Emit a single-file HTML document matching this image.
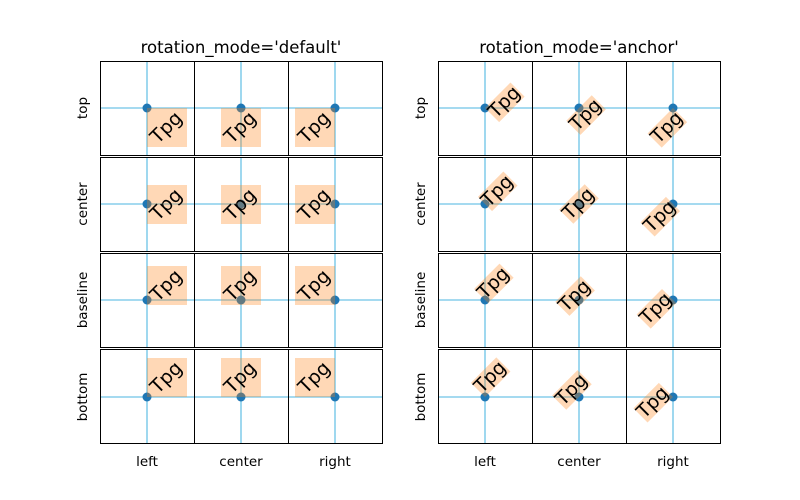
<!DOCTYPE html>
<html><head><meta charset="utf-8"><style>body{margin:0;background:#fff}svg{display:block}</style></head><body>
<svg width="800" height="500" viewBox="0 0 800 500" xmlns="http://www.w3.org/2000/svg" font-family="DejaVu Sans, Liberation Sans, sans-serif">
<rect width="800" height="500" fill="#fff"/>
<!-- lines -->
<g stroke="#87ceeb" stroke-width="1.6">
<line x1="147" y1="61" x2="147" y2="443"/><line x1="241" y1="61" x2="241" y2="443"/><line x1="335" y1="61" x2="335" y2="443"/>
<line x1="485" y1="61" x2="485" y2="443"/><line x1="579" y1="61" x2="579" y2="443"/><line x1="673" y1="61" x2="673" y2="443"/>
<line x1="100" y1="108" x2="382" y2="108"/><line x1="100" y1="204" x2="382" y2="204"/><line x1="100" y1="300" x2="382" y2="300"/><line x1="100" y1="397" x2="382" y2="397"/>
<line x1="438" y1="108" x2="720" y2="108"/><line x1="438" y1="204" x2="720" y2="204"/><line x1="438" y1="300" x2="720" y2="300"/><line x1="438" y1="397" x2="720" y2="397"/>
</g>
<g stroke="#fff" stroke-width="2">
<line x1="99" y1="156" x2="383" y2="156"/><line x1="99" y1="252" x2="383" y2="252"/><line x1="99" y1="348" x2="383" y2="348"/>
<line x1="437" y1="156" x2="721" y2="156"/><line x1="437" y1="252" x2="721" y2="252"/><line x1="437" y1="348" x2="721" y2="348"/>
</g>
<!-- dots -->
<g fill="#1f77b4">
<circle cx="147" cy="108" r="4.5"/><circle cx="241" cy="108" r="4.5"/><circle cx="335" cy="108" r="4.5"/>
<circle cx="147" cy="204" r="4.5"/><circle cx="241" cy="204" r="4.5"/><circle cx="335" cy="204" r="4.5"/>
<circle cx="147" cy="300" r="4.5"/><circle cx="241" cy="300" r="4.5"/><circle cx="335" cy="300" r="4.5"/>
<circle cx="147" cy="397" r="4.5"/><circle cx="241" cy="397" r="4.5"/><circle cx="335" cy="397" r="4.5"/>
<circle cx="485" cy="108" r="4.5"/><circle cx="579" cy="108" r="4.5"/><circle cx="673" cy="108" r="4.5"/>
<circle cx="485" cy="204" r="4.5"/><circle cx="579" cy="204" r="4.5"/><circle cx="673" cy="204" r="4.5"/>
<circle cx="485" cy="300" r="4.5"/><circle cx="579" cy="300" r="4.5"/><circle cx="673" cy="300" r="4.5"/>
<circle cx="485" cy="397" r="4.5"/><circle cx="579" cy="397" r="4.5"/><circle cx="673" cy="397" r="4.5"/>
</g>
<!-- default mode boxes -->
<g fill="#ff7f0e" fill-opacity="0.3">
<rect x="147" y="108" width="40" height="39"/><rect x="221" y="108" width="40" height="39"/><rect x="295" y="108" width="40" height="39"/>
<rect x="147" y="185" width="40" height="39"/><rect x="221" y="185" width="40" height="39"/><rect x="295" y="185" width="40" height="39"/>
<rect x="147" y="266" width="40" height="39"/><rect x="221" y="266" width="40" height="39"/><rect x="295" y="266" width="40" height="39"/>
<rect x="147" y="358" width="40" height="39"/><rect x="221" y="358" width="40" height="39"/><rect x="295" y="358" width="40" height="39"/>
</g>
<g font-size="19" fill="#000">
<text transform="translate(147,133.5) rotate(-45)" y="15.5">Tpg</text>
<text transform="translate(221,133.5) rotate(-45)" y="15.5">Tpg</text>
<text transform="translate(295,133.5) rotate(-45)" y="15.5">Tpg</text>
<text transform="translate(147,210.5) rotate(-45)" y="15.5">Tpg</text>
<text transform="translate(221,210.5) rotate(-45)" y="15.5">Tpg</text>
<text transform="translate(295,210.5) rotate(-45)" y="15.5">Tpg</text>
<text transform="translate(147,291.5) rotate(-45)" y="15.5">Tpg</text>
<text transform="translate(221,291.5) rotate(-45)" y="15.5">Tpg</text>
<text transform="translate(295,291.5) rotate(-45)" y="15.5">Tpg</text>
<text transform="translate(147,383.5) rotate(-45)" y="15.5">Tpg</text>
<text transform="translate(221,383.5) rotate(-45)" y="15.5">Tpg</text>
<text transform="translate(295,383.5) rotate(-45)" y="15.5">Tpg</text>
</g>
<!-- anchor mode -->
<g font-size="19">
<g transform="translate(485,108) rotate(-45)"><rect x="0" y="0" width="36" height="20" fill="#ff7f0e" fill-opacity="0.3"/><text x="0" y="15.5">Tpg</text></g>
<g transform="translate(579,108) rotate(-45)"><rect x="-18" y="0" width="36" height="20" fill="#ff7f0e" fill-opacity="0.3"/><text x="-18" y="15.5">Tpg</text></g>
<g transform="translate(673,108) rotate(-45)"><rect x="-36" y="0" width="36" height="20" fill="#ff7f0e" fill-opacity="0.3"/><text x="-36" y="15.5">Tpg</text></g>
<g transform="translate(485,204) rotate(-45)"><rect x="0" y="-10" width="36" height="20" fill="#ff7f0e" fill-opacity="0.3"/><text x="0" y="5.5">Tpg</text></g>
<g transform="translate(579,204) rotate(-45)"><rect x="-18" y="-10" width="36" height="20" fill="#ff7f0e" fill-opacity="0.3"/><text x="-18" y="5.5">Tpg</text></g>
<g transform="translate(673,204) rotate(-45)"><rect x="-36" y="-10" width="36" height="20" fill="#ff7f0e" fill-opacity="0.3"/><text x="-36" y="5.5">Tpg</text></g>
<g transform="translate(485,300) rotate(-45)"><rect x="0" y="-15.5" width="36" height="20" fill="#ff7f0e" fill-opacity="0.3"/><text x="0" y="0">Tpg</text></g>
<g transform="translate(579,300) rotate(-45)"><rect x="-18" y="-15.5" width="36" height="20" fill="#ff7f0e" fill-opacity="0.3"/><text x="-18" y="0">Tpg</text></g>
<g transform="translate(673,300) rotate(-45)"><rect x="-36" y="-15.5" width="36" height="20" fill="#ff7f0e" fill-opacity="0.3"/><text x="-36" y="0">Tpg</text></g>
<g transform="translate(485,397) rotate(-45)"><rect x="0" y="-20" width="36" height="20" fill="#ff7f0e" fill-opacity="0.3"/><text x="0" y="-4.5">Tpg</text></g>
<g transform="translate(579,397) rotate(-45)"><rect x="-18" y="-20" width="36" height="20" fill="#ff7f0e" fill-opacity="0.3"/><text x="-18" y="-4.5">Tpg</text></g>
<g transform="translate(673,397) rotate(-45)"><rect x="-36" y="-20" width="36" height="20" fill="#ff7f0e" fill-opacity="0.3"/><text x="-36" y="-4.5">Tpg</text></g>
</g>
<!-- frames -->
<g fill="none" stroke="#000" stroke-width="1">
<rect x="100.5" y="61.5" width="94" height="94"/><rect x="194.5" y="61.5" width="94" height="94"/><rect x="288.5" y="61.5" width="94" height="94"/>
<rect x="100.5" y="157.5" width="94" height="94"/><rect x="194.5" y="157.5" width="94" height="94"/><rect x="288.5" y="157.5" width="94" height="94"/>
<rect x="100.5" y="253.5" width="94" height="94"/><rect x="194.5" y="253.5" width="94" height="94"/><rect x="288.5" y="253.5" width="94" height="94"/>
<rect x="100.5" y="349.5" width="94" height="94"/><rect x="194.5" y="349.5" width="94" height="94"/><rect x="288.5" y="349.5" width="94" height="94"/>
<rect x="438.5" y="61.5" width="94" height="94"/><rect x="532.5" y="61.5" width="94" height="94"/><rect x="626.5" y="61.5" width="94" height="94"/>
<rect x="438.5" y="157.5" width="94" height="94"/><rect x="532.5" y="157.5" width="94" height="94"/><rect x="626.5" y="157.5" width="94" height="94"/>
<rect x="438.5" y="253.5" width="94" height="94"/><rect x="532.5" y="253.5" width="94" height="94"/><rect x="626.5" y="253.5" width="94" height="94"/>
<rect x="438.5" y="349.5" width="94" height="94"/><rect x="532.5" y="349.5" width="94" height="94"/><rect x="626.5" y="349.5" width="94" height="94"/>
</g>
<!-- titles and labels -->
<g fill="#000" text-anchor="middle">
<text x="241" y="53" font-size="16.5">rotation_mode='default'</text>
<text x="579" y="53" font-size="16.5">rotation_mode='anchor'</text>
<g font-size="13.5">
<text x="147" y="466">left</text><text x="241" y="466">center</text><text x="335" y="466">right</text>
<text x="485" y="466">left</text><text x="579" y="466">center</text><text x="673" y="466">right</text>
<text transform="translate(87,108) rotate(-90)">top</text>
<text transform="translate(87,204) rotate(-90)">center</text>
<text transform="translate(87,300) rotate(-90)">baseline</text>
<text transform="translate(87,397) rotate(-90)">bottom</text>
<text transform="translate(425,108) rotate(-90)">top</text>
<text transform="translate(425,204) rotate(-90)">center</text>
<text transform="translate(425,300) rotate(-90)">baseline</text>
<text transform="translate(425,397) rotate(-90)">bottom</text>
</g>
</g>
</svg>
</body></html>
